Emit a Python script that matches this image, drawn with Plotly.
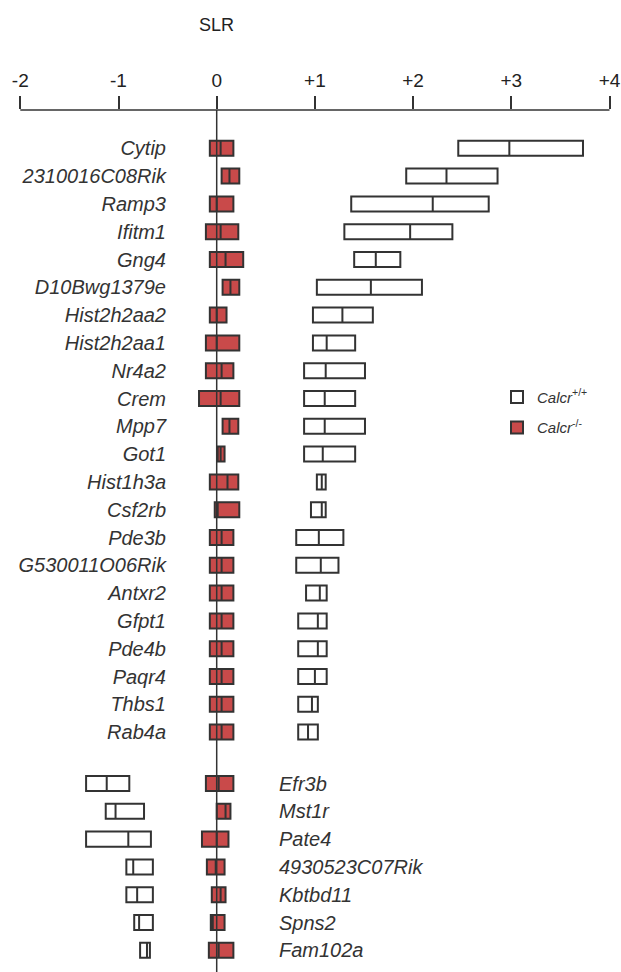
import plotly.graph_objects as go

# ---- data ----
genes_up = ["Cytip", "2310016C08Rik", "Ramp3", "Ifitm1", "Gng4", "D10Bwg1379e",
            "Hist2h2aa2", "Hist2h2aa1", "Nr4a2", "Crem", "Mpp7", "Got1",
            "Hist1h3a", "Csf2rb", "Pde3b", "G530011O06Rik", "Antxr2", "Gfpt1",
            "Pde4b", "Paqr4", "Thbs1", "Rab4a"]
genes_down = ["Efr3b", "Mst1r", "Pate4", "4930523C07Rik", "Kbtbd11", "Spns2", "Fam102a"]

# Calcr+/+ : low, mid, high SLR  (up-regulated genes)
wt_up_low = [2.46, 1.93, 1.37, 1.30, 1.40, 1.02, 0.98, 0.98, 0.89, 0.89, 0.89, 0.89,
             1.02, 0.96, 0.81, 0.81, 0.91, 0.83, 0.83, 0.83, 0.83, 0.83]
wt_up_mid = [2.98, 2.34, 2.20, 1.97, 1.62, 1.57, 1.28, 1.12, 1.11, 1.10, 1.10, 1.08,
             1.07, 1.07, 1.04, 1.06, 1.05, 1.03, 1.03, 1.00, 0.97, 0.93]
wt_up_high = [3.73, 2.86, 2.77, 2.40, 1.87, 2.09, 1.59, 1.41, 1.51, 1.41, 1.51, 1.41,
              1.11, 1.11, 1.29, 1.24, 1.12, 1.12, 1.12, 1.12, 1.03, 1.03]
# Calcr+/+ : down-regulated genes
wt_dn_low = [-1.33, -1.13, -1.33, -0.92, -0.92, -0.84, -0.78]
wt_dn_mid = [-1.12, -1.03, -0.90, -0.85, -0.81, -0.79, -0.71]
wt_dn_high = [-0.89, -0.74, -0.67, -0.65, -0.65, -0.65, -0.68]

# Calcr-/- : up-regulated genes
ko_up_low = [-0.07, 0.05, -0.07, -0.11, -0.07, 0.06, -0.07, -0.11, -0.11, -0.18, 0.06, 0.01,
             -0.07, -0.02, -0.07, -0.07, -0.07, -0.07, -0.07, -0.07, -0.07, -0.07]
ko_up_mid = [0.04, 0.13, 0.00, 0.04, 0.09, 0.14, 0.00, 0.00, 0.05, 0.04, 0.13, 0.04,
             0.11, 0.01, 0.05, 0.05, 0.05, 0.05, 0.05, 0.05, 0.05, 0.05]
ko_up_high = [0.17, 0.23, 0.17, 0.22, 0.27, 0.23, 0.10, 0.23, 0.17, 0.23, 0.22, 0.08,
              0.22, 0.23, 0.17, 0.17, 0.17, 0.17, 0.17, 0.17, 0.17, 0.17]
# Calcr-/- : down-regulated genes
ko_dn_low = [-0.11, 0.00, -0.15, -0.10, -0.05, -0.06, -0.08]
ko_dn_mid = [0.02, 0.09, 0.00, -0.01, 0.04, -0.04, 0.02]
ko_dn_high = [0.17, 0.14, 0.12, 0.08, 0.09, 0.08, 0.17]

tick_vals = [-2, -1, 0, 1, 2, 3, 4]
tick_text = ["-2", "-1", "0", "+1", "+2", "+3", "+4"]

# ---- layout helpers ----
group_gap = 0.85
pos_up = [float(i) for i in range(len(genes_up))]
pos_down = [len(genes_up) + group_gap + k for k in range(len(genes_down))]

FONT = "Liberation Sans, Arial, sans-serif"
LINE = "#333333"
RED = "#c94a4a"
BOXW = 0.54
WT_NAME = "<i>Calcr</i><sup>+/+</sup>"
KO_NAME = "<i>Calcr</i><sup>-/-</sup>"

fig = go.Figure()


def add_boxes(name, pos, low, mid, high, fill, yaxis, group, show):
    fig.add_trace(go.Box(
        name=name, orientation="h", y=pos,
        q1=low, median=mid, q3=high, lowerfence=low, upperfence=high,
        width=BOXW, whiskerwidth=0, fillcolor=fill,
        line=dict(color=LINE, width=2), legendgroup=group,
        showlegend=show, hoverinfo="skip", yaxis=yaxis,
    ))


add_boxes(WT_NAME, pos_up, wt_up_low, wt_up_mid, wt_up_high, "white", "y", "wt", True)
add_boxes(KO_NAME, pos_up, ko_up_low, ko_up_mid, ko_up_high, RED, "y", "ko", True)
add_boxes(WT_NAME, pos_down, wt_dn_low, wt_dn_mid, wt_dn_high, "white", "y2", "wt", False)
add_boxes(KO_NAME, pos_down, ko_dn_low, ko_dn_mid, ko_dn_high, RED, "y2", "ko", False)

W, H = 621, 972
top, bottom = 110, 0
px_per_unit = 98.2
zero_px = 216.7
x_range = [-zero_px / px_per_unit, (W - zero_px) / px_per_unit]
row_px = 27.8
first_row_px = 148.3
y_range = [(H - bottom - first_row_px) / row_px, (top - first_row_px) / row_px]

fig.update_layout(
    width=W, height=H,
    margin=dict(l=0, r=0, t=top, b=bottom),
    paper_bgcolor="white", plot_bgcolor="white",
    font=dict(family=FONT, color="#333333"),
    boxmode="overlay",
    xaxis=dict(
        range=x_range, side="top", showgrid=False, zeroline=False, showline=False,
        tickvals=tick_vals, ticktext=tick_text, ticks="outside", ticklen=13,
        tickwidth=1.5, tickcolor=LINE, ticklabelstandoff=1,
        tickfont=dict(size=19, family=FONT, color="#222222"),
    ),
    yaxis=dict(
        range=y_range, anchor="free", position=166 / W, side="left",
        showgrid=False, zeroline=False, showline=False, ticks="",
        tickvals=pos_up, ticktext=[f"<i>{g}</i>" for g in genes_up],
        tickfont=dict(size=20, family=FONT, color="#333333"),
    ),
    yaxis2=dict(
        range=y_range, overlaying="y", anchor="free", position=278 / W,
        side="right", showgrid=False, zeroline=False, showline=False, ticks="",
        tickvals=pos_down, ticktext=[f"<i>{g}</i>" for g in genes_down],
        tickfont=dict(size=20, family=FONT, color="#333333"),
    ),
    legend=dict(
        x=497 / W, y=0.686, xanchor="left", yanchor="top",
        font=dict(size=15, family=FONT, color="#333333"),
        bgcolor="rgba(0,0,0,0)", tracegroupgap=8,
    ),
    shapes=[
        dict(type="line", xref="x", yref="paper", x0=tick_vals[0], x1=tick_vals[-1],
             y0=1, y1=1, line=dict(color=LINE, width=1.5)),
        dict(type="line", xref="x", yref="paper", x0=0, x1=0, y0=0, y1=1,
             line=dict(color=LINE, width=1.5), layer="above"),
    ],
    annotations=[
        dict(text="SLR", x=0, xref="x", y=1 + (top - 25) / (H - top - bottom), yref="paper",
             yanchor="middle", showarrow=False,
             font=dict(size=18, family=FONT, color="#222222")),
    ],
)

fig.write_html("out.html")
